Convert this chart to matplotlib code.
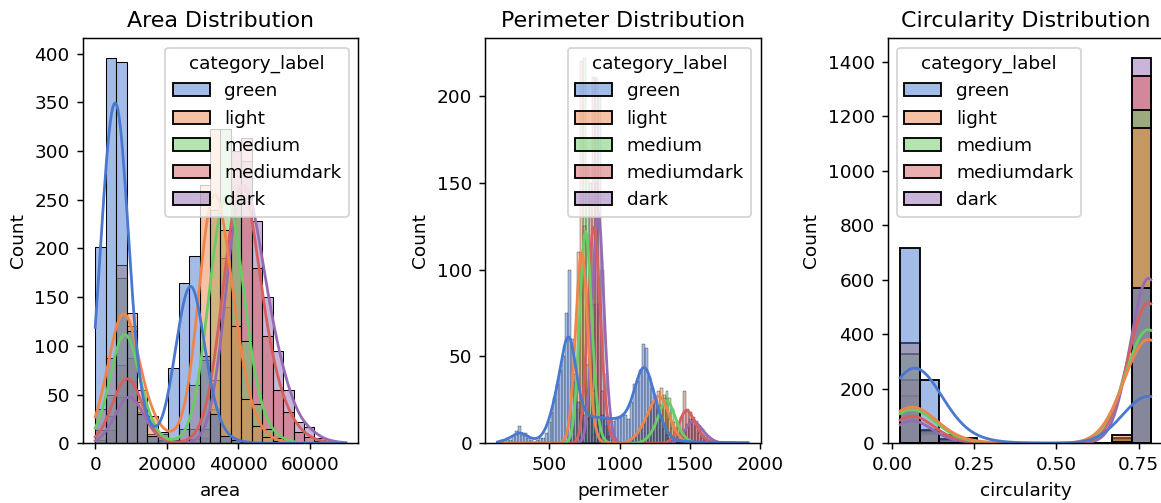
import numpy as np
import pandas as pd
import matplotlib
matplotlib.use("Agg")
import matplotlib.pyplot as plt
import seaborn as sns

# hue levels
labels = ["green", "light", "medium", "mediumdark", "dark"]

# ---- area histogram (counts per bin) ----
area_edges = np.linspace(0, 70000, 25)
area_green = [202, 396, 391, 115, 30, 8, 12, 77, 165, 192, 90, 30, 8, 3, 1, 0, 0, 0, 0, 0, 0, 0, 0, 0]
area_light = [35, 88, 183, 134, 55, 28, 10, 3, 15, 60, 265, 323, 219, 120, 45, 18, 6, 2, 0, 0, 0, 0, 0, 0]
area_medium = [14, 50, 170, 120, 42, 10, 3, 0, 3, 15, 85, 240, 323, 250, 105, 40, 15, 5, 2, 0, 0, 0, 0, 0]
area_mediumdark = [3, 28, 80, 88, 32, 8, 2, 0, 0, 4, 15, 65, 190, 300, 313, 180, 110, 55, 32, 12, 6, 2, 0, 0]
area_dark = [1, 14, 48, 64, 30, 8, 2, 0, 0, 0, 5, 35, 140, 300, 290, 228, 150, 95, 55, 22, 17, 5, 2, 1]

# ---- perimeter histogram (85 thin bins from 130 to 1915) ----
perim_edges = np.linspace(130, 1915, 86)
perim_green = ([1, 2, 1, 3, 2, 4, 7, 10, 5, 6, 3, 2, 1, 2, 3]
               + [3, 6, 12, 18, 26, 34, 42, 50, 75, 100, 60, 35, 24, 18, 16]
               + [14, 15, 16, 15, 14, 16, 14, 15, 14, 13, 14, 15, 16, 16, 14]
               + [24, 34, 36, 42, 57, 55, 38, 32, 24, 20, 14, 8, 5, 3, 2]
               + [1, 1, 2, 1, 1, 1, 1, 0, 1, 1, 0, 1, 1, 0, 1, 0, 1, 1, 0, 1, 0, 0, 1, 0, 1])
perim_light = ([0] * 24
               + [3, 10, 40, 110, 220, 125, 45, 15, 5, 2]
               + [0] * 10
               + [1, 2, 3, 5, 8, 11, 15, 19, 24, 27, 30, 32, 26, 20, 14, 9, 6, 3, 2, 1]
               + [0] * 21)
perim_medium = ([0] * 26
                + [4, 20, 100, 222, 160, 80, 30, 10, 4, 2]
                + [0] * 13
                + [1, 2, 4, 6, 9, 13, 22, 28, 30, 26, 20, 12, 8, 5, 3, 2, 1]
                + [0] * 19)
perim_mediumdark = ([0] * 29
                    + [6, 30, 150, 211, 150, 80, 30, 10, 4]
                    + [0] * 20
                    + [1, 2, 4, 9, 15, 30, 20, 18, 14, 10, 6, 3, 2, 1, 1]
                    + [0] * 12)
perim_dark = ([0] * 30
              + [3, 10, 80, 210, 200, 100, 40, 12, 4]
              + [0] * 21
              + [1, 2, 3, 7, 11, 14, 15, 13, 10, 8, 5, 4, 2, 1, 1]
              + [0] * 10)

# ---- circularity histogram ----
circ_edges = np.linspace(0.025, 0.787, 14)
circ_points = [0.054, 0.113, 0.172, 0.230, 0.289, 0.347, 0.406, 0.465, 0.523, 0.582, 0.640, 0.699, 0.780]
circ_green = [718, 233, 30, 20, 6, 2, 0, 0, 0, 0, 0, 5, 571]
circ_light = [368, 50, 15, 6, 2, 0, 0, 0, 0, 0, 0, 30, 1158]
circ_medium = [329, 45, 12, 5, 1, 0, 0, 0, 0, 0, 0, 20, 1225]
circ_mediumdark = [233, 40, 10, 4, 1, 0, 0, 0, 0, 0, 0, 15, 1347]
circ_dark = [172, 35, 8, 3, 1, 0, 0, 0, 0, 0, 0, 10, 1416]


def make_frame(name, points, series):
    # one row per observation: each bin value repeated by its count
    parts = []
    for lab, counts in zip(labels, series):
        vals = np.repeat(np.asarray(points, dtype=float), counts)
        parts.append(pd.DataFrame({name: vals, "category_label": lab}))
    return pd.concat(parts, ignore_index=True)


area_df = make_frame("area", (area_edges[:-1] + area_edges[1:]) / 2,
                     [area_green, area_light, area_medium, area_mediumdark, area_dark])
perim_df = make_frame("perimeter", (perim_edges[:-1] + perim_edges[1:]) / 2,
                      [perim_green, perim_light, perim_medium, perim_mediumdark, perim_dark])
circ_df = make_frame("circularity", circ_points,
                     [circ_green, circ_light, circ_medium, circ_mediumdark, circ_dark])

fig = plt.figure(figsize=(1161 / 133, 503 / 133), dpi=133)
ax1 = fig.add_axes([0.0712, 0.1187, 0.2374, 0.8052])
ax2 = fig.add_axes([0.4177, 0.1187, 0.2374, 0.8052])
ax3 = fig.add_axes([0.7646, 0.1187, 0.2374, 0.8052])   # runs past the right edge, like the source

panels = [
    (ax1, area_df, "area", area_edges, "scott", "Area Distribution", "upper right"),
    (ax2, perim_df, "perimeter", perim_edges, 0.14, "Perimeter Distribution", "upper right"),
    (ax3, circ_df, "circularity", circ_edges, "scott", "Circularity Distribution", "upper left"),
]

for ax, df, col, edges, bw, title, loc in panels:
    sns.histplot(data=df, x=col, hue="category_label", hue_order=labels,
                 bins=list(edges), kde=True, palette="muted", ax=ax,
                 kde_kws=dict(bw_method=bw, cut=3, clip=(edges[0], edges[-1])))
    ax.set_title(title, fontsize=12)
    sns.move_legend(ax, loc)

fig.savefig("out.png", dpi=133)
